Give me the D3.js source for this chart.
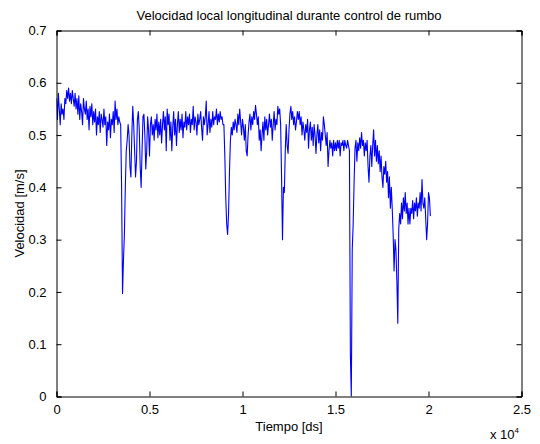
<!DOCTYPE html>
<html>
<head>
<meta charset="utf-8">
<script src="https://cdn.jsdelivr.net/npm/d3@7"></script>
<style>
  html, body { margin: 0; padding: 0; background: #fff; }
  svg { display: block; }
  text { font-family: "Liberation Sans", Arial, Helvetica, sans-serif; fill: #000; }
</style>
</head>
<body>
<svg id="chart" width="540" height="444"></svg>
<script>
// Sampling interval of the speed record, in deciseconds
const sampleStep = 50;

// Local longitudinal speed [m/s], one value every 50 ds starting at t = 0
const velocidad = [
  0.57, 0.53, 0.58, 0.55, 0.52, 0.56, 0.54, 0.55, 0.53, 0.57, 0.56, 0.585, 0.57, 0.59, 0.565, 0.58, 0.56, 0.585, 0.57, 0.555,
  0.58, 0.55, 0.57, 0.54, 0.575, 0.53, 0.56, 0.545, 0.52, 0.57, 0.55, 0.54, 0.565, 0.53, 0.55, 0.51, 0.555, 0.535, 0.56, 0.52,
  0.545, 0.525, 0.55, 0.50, 0.535, 0.52, 0.545, 0.505, 0.54, 0.53, 0.515, 0.55, 0.52, 0.535, 0.48, 0.525, 0.51, 0.54, 0.495, 0.53,
  0.52, 0.545, 0.505, 0.565, 0.53, 0.55, 0.52, 0.535, 0.525, 0.52, 0.40, 0.197, 0.26, 0.31, 0.40, 0.47, 0.49, 0.52, 0.50, 0.44,
  0.42, 0.50, 0.555, 0.52, 0.47, 0.42, 0.45, 0.53, 0.545, 0.51, 0.44, 0.40, 0.47, 0.535, 0.54, 0.50, 0.435, 0.47, 0.535, 0.51,
  0.46, 0.52, 0.535, 0.50, 0.52, 0.49, 0.53, 0.51, 0.54, 0.495, 0.525, 0.50, 0.53, 0.485, 0.52, 0.545, 0.51, 0.535, 0.47, 0.55,
  0.52, 0.54, 0.49, 0.525, 0.47, 0.515, 0.545, 0.50, 0.53, 0.48, 0.52, 0.545, 0.505, 0.53, 0.51, 0.54, 0.495, 0.525, 0.515, 0.545,
  0.51, 0.535, 0.52, 0.54, 0.505, 0.53, 0.52, 0.555, 0.51, 0.535, 0.525, 0.50, 0.54, 0.52, 0.53, 0.545, 0.515, 0.49, 0.535, 0.52,
  0.535, 0.565, 0.50, 0.52, 0.545, 0.505, 0.53, 0.515, 0.545, 0.52, 0.535, 0.53, 0.55, 0.52, 0.54, 0.525, 0.545, 0.53, 0.535, 0.52,
  0.52, 0.46, 0.38, 0.33, 0.31, 0.35, 0.43, 0.49, 0.515, 0.50, 0.525, 0.51, 0.53, 0.52, 0.505, 0.54, 0.52, 0.55, 0.525, 0.50,
  0.53, 0.515, 0.49, 0.52, 0.47, 0.46, 0.50, 0.525, 0.54, 0.51, 0.535, 0.52, 0.545, 0.53, 0.557, 0.54, 0.52, 0.535, 0.49, 0.51,
  0.47, 0.50, 0.525, 0.49, 0.535, 0.51, 0.53, 0.50, 0.52, 0.54, 0.515, 0.53, 0.49, 0.52, 0.545, 0.51, 0.53, 0.52, 0.555, 0.54,
  0.55, 0.52, 0.42, 0.30, 0.40, 0.39, 0.47, 0.52, 0.48, 0.465, 0.51, 0.54, 0.555, 0.53, 0.545, 0.52, 0.535, 0.51, 0.525, 0.545,
  0.53, 0.545, 0.52, 0.535, 0.50, 0.525, 0.51, 0.49, 0.52, 0.505, 0.53, 0.475, 0.51, 0.525, 0.49, 0.515, 0.48, 0.52, 0.50, 0.465,
  0.50, 0.52, 0.485, 0.51, 0.47, 0.505, 0.49, 0.535, 0.52, 0.50, 0.48, 0.505, 0.44, 0.47, 0.49, 0.475, 0.485, 0.46, 0.49, 0.47,
  0.485, 0.47, 0.49, 0.475, 0.49, 0.46, 0.485, 0.48, 0.49, 0.47, 0.49, 0.48, 0.475, 0.49, 0.48, 0.47, 0.08, 0.0, 0.28, 0.33,
  0.41, 0.475, 0.49, 0.45, 0.485, 0.47, 0.495, 0.475, 0.505, 0.48, 0.49, 0.46, 0.485, 0.47, 0.49, 0.44, 0.41, 0.46, 0.48, 0.44,
  0.48, 0.51, 0.46, 0.49, 0.45, 0.48, 0.445, 0.47, 0.43, 0.46, 0.42, 0.40, 0.44, 0.425, 0.45, 0.41, 0.43, 0.38, 0.42, 0.36,
  0.40, 0.36, 0.31, 0.24, 0.30, 0.28, 0.22, 0.14, 0.32, 0.35, 0.33, 0.37, 0.34, 0.38, 0.355, 0.39, 0.35, 0.37, 0.33, 0.36,
  0.33, 0.36, 0.35, 0.375, 0.34, 0.37, 0.355, 0.38, 0.345, 0.37, 0.36, 0.39, 0.355, 0.415, 0.37, 0.36, 0.38, 0.34, 0.30, 0.33,
  0.39, 0.38, 0.345
];

const xTicks = [0, 5000, 10000, 15000, 20000, 25000];
const xTickLabels = ["0", "0.5", "1", "1.5", "2", "2.5"];
const yTicks = [0, 0.1, 0.2, 0.3, 0.4, 0.5, 0.6, 0.7];
const yTickLabels = ["0", "0.1", "0.2", "0.3", "0.4", "0.5", "0.6", "0.7"];

const titulo = "Velocidad local longitudinal durante control de rumbo";
const etiquetaX = "Tiempo [ds]";
const etiquetaY = "Velocidad [m/s]";

const serie = velocidad.map((v, i) => ({ t: i * sampleStep, v }));

const plot = { left: 56.5, right: 521.5, top: 30.5, bottom: 396.5 };
const fontSize = 13;
const svg = d3.select("#chart");

const x = d3.scaleLinear().domain([0, 25000]).range([plot.left, plot.right]);
const y = d3.scaleLinear().domain([0, 0.7]).range([plot.bottom, plot.top]);

// data line, clipped to the axes box
svg.append("clipPath").attr("id", "clip")
  .append("rect")
  .attr("x", plot.left).attr("y", plot.top - 1)
  .attr("width", plot.right - plot.left).attr("height", plot.bottom - plot.top + 1);

svg.append("path")
  .datum(serie)
  .attr("clip-path", "url(#clip)")
  .attr("fill", "none")
  .attr("stroke", "#0000ff")
  .attr("stroke-width", 1.1)
  .attr("stroke-linejoin", "round")
  .attr("d", d3.line().x(d => x(d.t)).y(d => y(d.v)));

const tickLen = 5;

// bottom and top axes (ticks pointing inward)
const xBottom = svg.append("g").attr("transform", `translate(0,${plot.bottom})`)
  .call(d3.axisBottom(x).tickValues(xTicks).tickSize(-tickLen)
    .tickFormat((d, i) => xTickLabels[i]).tickPadding(10));
const xTop = svg.append("g").attr("transform", `translate(0,${plot.top})`)
  .call(d3.axisTop(x).tickValues(xTicks).tickSize(-tickLen).tickFormat(""));

// left and right axes
const yLeft = svg.append("g").attr("transform", `translate(${plot.left},0)`)
  .call(d3.axisLeft(y).tickValues(yTicks).tickSize(-tickLen)
    .tickFormat((d, i) => yTickLabels[i]).tickPadding(10));
const yRight = svg.append("g").attr("transform", `translate(${plot.right},0)`)
  .call(d3.axisRight(y).tickValues(yTicks).tickSize(-tickLen).tickFormat(""));

[xBottom, xTop, yLeft, yRight].forEach(g => {
  g.select(".domain").attr("stroke", "#000").attr("stroke-width", 1);
  g.selectAll(".tick line").attr("stroke", "#000").attr("stroke-width", 1);
  g.selectAll(".tick text")
    .attr("font-family", "'Liberation Sans', Arial, sans-serif")
    .attr("font-size", fontSize).attr("fill", "#000");
});

xBottom.selectAll(".tick text").attr("dy", "0.6em");

// title and axis labels
svg.append("text")
  .attr("x", (plot.left + plot.right) / 2).attr("y", 20)
  .attr("text-anchor", "middle").attr("font-size", fontSize)
  .text(titulo);

svg.append("text")
  .attr("x", (plot.left + plot.right) / 2).attr("y", 431)
  .attr("text-anchor", "middle").attr("font-size", fontSize)
  .text(etiquetaX);

svg.append("text")
  .attr("transform", `translate(24,${(plot.top + plot.bottom) / 2}) rotate(-90)`)
  .attr("text-anchor", "middle").attr("font-size", fontSize)
  .text(etiquetaY);

// exponent note for the time axis
const expo = svg.append("text")
  .attr("x", 519).attr("y", 439)
  .attr("text-anchor", "end").attr("font-size", fontSize);
expo.append("tspan").text("x 10");
expo.append("tspan").attr("dy", -6).attr("font-size", 8).text("4");
</script>
</body>
</html>
